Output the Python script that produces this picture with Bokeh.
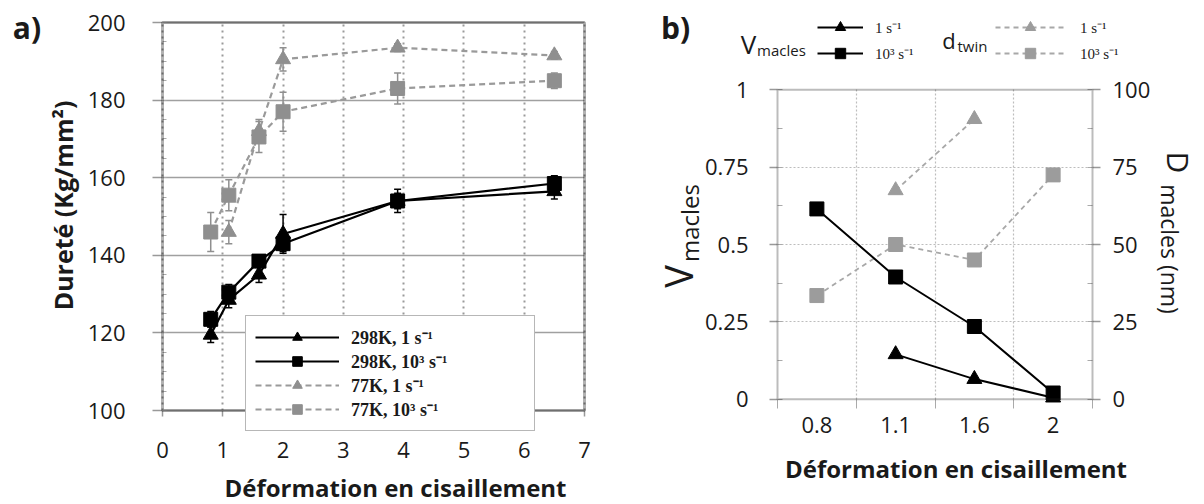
import math
from bokeh.plotting import figure
from bokeh.models import (ColumnDataSource, Whisker, TeeHead, Legend, LegendItem, Label,
                          FixedTicker, LinearAxis, Range1d, Grid, BoxAnnotation)
from bokeh.layouts import row
from bokeh.embed import file_html
from bokeh.resources import INLINE

SANS = "Open Sans"
SERIF = "Liberation Serif"
INK = "#1a1a1a"

# ---------------- panel a data ----------------
strain_298 = [0.8, 1.1, 1.6, 2.0, 3.9, 6.5]
hv_298_1 = [119.5, 128.5, 135.0, 145.5, 154.0, 156.5]
err_298_1 = [2, 2, 2, 5, 2, 2]
hv_298_1e3 = [123.5, 130.5, 138.5, 143.0, 154.0, 158.5]
err_298_1e3 = [2, 2, 1, 2, 3, 2]
strain_77_1 = [1.1, 1.6, 2.0, 3.9, 6.5]
hv_77_1 = [146.0, 172.0, 190.5, 193.5, 191.5]
err_77_1 = [3, 3, 3, 1, 1]
strain_77_1e3 = [0.8, 1.1, 1.6, 2.0, 3.9, 6.5]
hv_77_1e3 = [146.0, 155.5, 170.5, 177.0, 183.0, 185.0]
err_77_1e3 = [5, 4, 4, 5, 4, 2]
labels_a = ["298K, 1 s⁻¹", "298K, 10³ s⁻¹", "77K, 1 s⁻¹", "77K, 10³ s⁻¹"]
x_ticks_a = [0, 1, 2, 3, 4, 5, 6, 7]
y_ticks_a = [100, 120, 140, 160, 180, 200]

# ---------------- panel b data ----------------
strain_b = ["0.8", "1.1", "1.6", "2"]
v_1 = [None, 0.145, 0.065, 0.005]
v_1e3 = [0.615, 0.395, 0.235, 0.02]
d_1 = [None, 67.5, 90.5, None]
d_1e3 = [33.5, 50.0, 45.0, 72.5]
v_ticks = [0, 0.25, 0.5, 0.75, 1]
v_tick_labels = ["0", "0.25", "0.5", "0.75", "1"]
d_ticks = [0, 25, 50, 75, 100]
legend_b_labels = ["1 s⁻¹", "10³ s⁻¹"]

BLACK = "#000000"
GRAY_M = "#8f8f8f"
GRAY_L = "#9a9a9a"

# ---------------- layout geometry (page pixels) ----------------
H = 504
W1, W2 = 628, 574
O1 = (0, 0)             # canvas origin of figure a on the page
O2 = (W1, 0)            # canvas origin of figure b
BOX_A = dict(l=162, r=584, t=22, b=410)       # plot box of panel a
BOX_B = dict(l=777, r=1092, t=89.3, b=398.7)  # plot box of panel b
XA, YA = (0, 7), (100, 200)
XB, YB, YD = (0.5, 4.5), (0, 1), (0, 100)


def ranges_for(box, origin, W, xr, yr):
    kx = (box["r"] - box["l"]) / (xr[1] - xr[0])
    ky = (box["b"] - box["t"]) / (yr[1] - yr[0])
    x0 = xr[0] - (box["l"] - origin[0]) / kx
    x1 = xr[1] + (origin[0] + W - box["r"]) / kx
    y1 = yr[1] + (box["t"] - origin[1]) / ky
    y0 = yr[0] - (origin[1] + H - box["b"]) / ky
    return (x0, x1), (y0, y1), kx, ky


def src(xs, ys, errs=None):
    d = {"x": list(xs), "y": list(ys)}
    if errs is not None:
        d["upper"] = [y + e for y, e in zip(ys, errs)]
        d["lower"] = [y - e for y, e in zip(ys, errs)]
    return ColumnDataSource(d)


def label(p, origin, X, Y, text, size, angle=0.0, style="normal", font=SANS):
    p.add_layout(Label(x=X - origin[0], y=origin[1] + H - Y, x_units="screen", y_units="screen",
                       text=text, angle=angle, text_font=font, text_font_size=size,
                       text_font_style=style, text_align="center", text_baseline="middle",
                       text_color=INK))


HAS_CB = "cross_bounds" in Grid.properties()


def add_grid(p, dim, ticks, cross, color, width, dash):
    if HAS_CB:
        p.add_layout(Grid(dimension=dim, ticker=FixedTicker(ticks=ticks), cross_bounds=cross,
                          grid_line_color=color, grid_line_width=width, grid_line_dash=dash))
    else:
        n = len(ticks)
        if dim == 0:
            p.segment(x0=ticks, x1=ticks, y0=[cross[0]] * n, y1=[cross[1]] * n,
                      line_color=color, line_width=width, line_dash=dash, level="underlay")
        else:
            p.segment(y0=ticks, y1=ticks, x0=[cross[0]] * n, x1=[cross[1]] * n,
                      line_color=color, line_width=width, line_dash=dash, level="underlay")


def style_axis(ax, tick_size="22px"):
    ax.axis_line_color = None
    ax.major_tick_line_color = "#999999"
    ax.major_tick_line_width = 1.5
    ax.minor_tick_line_color = "#aaaaaa"
    ax.major_tick_in = 0
    ax.major_label_text_font = SANS
    ax.major_label_text_font_size = tick_size
    ax.major_label_text_color = INK
    ax.axis_label_text_font = SANS
    ax.axis_label_text_font_size = "24px"
    ax.axis_label_text_font_style = "bold"
    ax.axis_label_text_color = INK


# ================= figure a =================
xra, yra, kxa, kya = ranges_for(BOX_A, O1, W1, XA, YA)
p1 = figure(width=W1, height=H, x_range=xra, y_range=yra, x_axis_location=None,
            y_axis_location=None, min_border=0, output_backend="svg", toolbar_location=None)
p1.outline_line_color = None
p1.grid.visible = False

ax_x = LinearAxis(fixed_location=YA[0], ticker=FixedTicker(ticks=x_ticks_a))
style_axis(ax_x)
ax_x.major_tick_out = 6
ax_x.minor_tick_out = 0
ax_x.major_label_standoff = 25
ax_x.axis_label = "Déformation en cisaillement"
ax_x.axis_label_standoff = 10
ax_x.bounds = (XA[0], XA[0] + 2 * (406.5 - BOX_A["l"]) / kxa)
p1.add_layout(ax_x, "below")

ax_y = LinearAxis(fixed_location=XA[0],
                  ticker=FixedTicker(ticks=y_ticks_a, minor_ticks=list(range(100, 201, 5))))
style_axis(ax_y)
ax_y.major_tick_out = 10
ax_y.minor_tick_in = 4
ax_y.minor_tick_out = 0
ax_y.major_label_standoff = 27
ax_y.axis_label = "Dureté (Kg/mm²)"
ax_y.axis_label_text_font_size = "25px"
ax_y.axis_label_standoff = 5
ax_y.bounds = (YA[0], YA[0] + 2 * (BOX_A["b"] - 191) / kya)
p1.add_layout(ax_y, "left")

add_grid(p1, 1, y_ticks_a, XA, "#a0a0a0", 1.5, "solid")
add_grid(p1, 0, x_ticks_a, YA, "#9a9a9a", 2, "2 4")

s298_1 = src(strain_298, hv_298_1, err_298_1)
s298_3 = src(strain_298, hv_298_1e3, err_298_1e3)
s77_1 = src(strain_77_1, hv_77_1, err_77_1)
s77_3 = src(strain_77_1e3, hv_77_1e3, err_77_1e3)

l77_1 = p1.line("x", "y", source=s77_1, line_color=GRAY_L, line_width=2.2, line_dash="6 4")
l77_3 = p1.line("x", "y", source=s77_3, line_color=GRAY_L, line_width=2.2, line_dash="6 4")
l298_1 = p1.line("x", "y", source=s298_1, line_color=BLACK, line_width=2.2)
l298_3 = p1.line("x", "y", source=s298_3, line_color=BLACK, line_width=2.2)
for s, c in ((s77_1, GRAY_M), (s77_3, GRAY_M), (s298_1, BLACK), (s298_3, BLACK)):
    p1.add_layout(Whisker(source=s, base="x", upper="upper", lower="lower", line_color=c,
                          line_width=1.5,
                          upper_head=TeeHead(size=7, line_color=c, line_width=1.5),
                          lower_head=TeeHead(size=7, line_color=c, line_width=1.5)))
m77_1 = p1.scatter("x", "y", source=s77_1, marker="triangle", size=15, color=GRAY_M)
m77_3 = p1.scatter("x", "y", source=s77_3, marker="square", size=14, color=GRAY_M)
m298_1 = p1.scatter("x", "y", source=s298_1, marker="triangle", size=15, color=BLACK)
m298_3 = p1.scatter("x", "y", source=s298_3, marker="square", size=14, color=BLACK)

p1.add_layout(BoxAnnotation(left=XA[0], right=XA[1], bottom=YA[0], top=YA[1],
                            fill_color=None, line_color="black", line_width=3))

leg_a = Legend(items=[LegendItem(label=labels_a[0], renderers=[l298_1, m298_1]),
                      LegendItem(label=labels_a[1], renderers=[l298_3, m298_3]),
                      LegendItem(label=labels_a[2], renderers=[l77_1, m77_1]),
                      LegendItem(label=labels_a[3], renderers=[l77_3, m77_3])],
               location=(245 - O1[0], O1[1] + H - 431), margin=0, padding=9, spacing=0,
               glyph_width=84, glyph_height=24, label_height=24, label_width=174,
               label_standoff=12, label_text_font=SERIF, label_text_font_size="18px",
               label_text_font_style="bold", label_text_color=INK,
               border_line_color="#707070", border_line_width=1.5,
               background_fill_color="white", background_fill_alpha=1)
p1.add_layout(leg_a)
label(p1, O1, 26.5, 27, "a)", "30px", style="bold")

# ================= figure b =================
xrb, yrb, kxb, kyb = ranges_for(BOX_B, O2, W2, XB, YB)
p2 = figure(width=W2, height=H, x_range=xrb, y_range=yrb, x_axis_location=None,
            y_axis_location=None, min_border=0, output_backend="svg", toolbar_location=None)
p2.outline_line_color = None
p2.grid.visible = False
p2.extra_y_ranges = {"d": Range1d(yrb[0] * YD[1], yrb[1] * YD[1])}

bottom = LinearAxis(fixed_location=YB[0],
                    ticker=FixedTicker(ticks=[i + 1 for i in range(len(strain_b))],
                                       minor_ticks=[i + 0.5 for i in range(len(strain_b) + 1)]))
style_axis(bottom)
bottom.major_label_overrides = {i + 1: s for i, s in enumerate(strain_b)}
bottom.major_tick_out = 0
bottom.minor_tick_in = 0
bottom.minor_tick_out = 9
bottom.major_label_standoff = 9
bottom.axis_label = "Déformation en cisaillement"
bottom.axis_label_standoff = 15
bottom.bounds = (XB[0], XB[0] + 2 * (955.5 - BOX_B["l"]) / kxb)
p2.add_layout(bottom, "below")

left = LinearAxis(fixed_location=XB[0],
                  ticker=FixedTicker(ticks=v_ticks, minor_ticks=[k * 0.125 for k in range(9)]))
left.major_label_overrides = {t: s for t, s in zip(v_ticks, v_tick_labels)}
right = LinearAxis(y_range_name="d", fixed_location=XB[1],
                   ticker=FixedTicker(ticks=d_ticks, minor_ticks=[k * 12.5 for k in range(9)]))
for ax in (left, right):
    style_axis(ax)
    ax.major_tick_out = 8
    ax.minor_tick_in = 5
    ax.minor_tick_out = 0
left.major_label_standoff = 21
right.major_label_standoff = 12
p2.add_layout(left, "left")
p2.add_layout(right, "right")

add_grid(p2, 0, [i + 1.5 for i in range(len(strain_b) - 1)], YB, "#bdbdbd", 1.2, "2 2")
add_grid(p2, 1, v_ticks[1:-1], XB, "#bdbdbd", 1.2, "2 2")


def src_b(values):
    xs = [i + 1 for i, v in enumerate(values) if v is not None]
    ys = [v for v in values if v is not None]
    return ColumnDataSource({"x": xs, "y": ys})


sd1 = src_b(d_1)
sd3 = src_b(d_1e3)
sv1 = src_b(v_1)
sv3 = src_b(v_1e3)
ld1 = p2.line("x", "y", source=sd1, y_range_name="d", line_color="#a8a8a8", line_width=1.8, line_dash="5 4")
ld3 = p2.line("x", "y", source=sd3, y_range_name="d", line_color="#a8a8a8", line_width=1.8, line_dash="5 4")
md1 = p2.scatter("x", "y", source=sd1, y_range_name="d", marker="triangle", size=15, color="#9c9c9c")
md3 = p2.scatter("x", "y", source=sd3, y_range_name="d", marker="square", size=14, color="#9c9c9c")
lv1 = p2.line("x", "y", source=sv1, line_color=BLACK, line_width=2)
lv3 = p2.line("x", "y", source=sv3, line_color=BLACK, line_width=2)
mv1 = p2.scatter("x", "y", source=sv1, marker="triangle", size=15, color=BLACK)
mv3 = p2.scatter("x", "y", source=sv3, marker="square", size=14, color=BLACK)

p2.add_layout(BoxAnnotation(left=XB[0], right=XB[1], bottom=YB[0], top=YB[1],
                            fill_color=None, line_color="#222222", line_width=2))

common = dict(margin=0, padding=0, spacing=0, glyph_height=26, label_height=26,
              label_text_font=SERIF, label_text_font_size="15px", label_text_color=INK,
              border_line_color=None, background_fill_alpha=0)
leg_v = Legend(items=[LegendItem(label=legend_b_labels[0], renderers=[lv1, mv1]),
                      LegendItem(label=legend_b_labels[1], renderers=[lv3, mv3])],
               location=(817 - O2[0], O2[1] + H - 66), glyph_width=46, label_standoff=12, **common)
leg_d = Legend(items=[LegendItem(label=legend_b_labels[0], renderers=[ld1, md1]),
                      LegendItem(label=legend_b_labels[1], renderers=[ld3, md3])],
               location=(995 - O2[0], O2[1] + H - 66), glyph_width=70, label_standoff=15, **common)
p2.add_layout(leg_v)
p2.add_layout(leg_d)

label(p2, O2, 675, 27, "b)", "30px", style="bold")
label(p2, O2, 748, 43, "V", "26px")
label(p2, O2, 781, 49, "macles", "15px")
label(p2, O2, 948.5, 39, "d", "22px")
label(p2, O2, 972, 45, "twin", "15px")
label(p2, O2, 677, 276, "V", "38px", angle=math.pi / 2)
label(p2, O2, 688.5, 222.5, "macles", "24px", angle=math.pi / 2)
label(p2, O2, 1178, 162, "D", "30px", angle=-math.pi / 2)
label(p2, O2, 1169, 248.5, "macles (nm)", "23px", angle=-math.pi / 2)

layout = row(p1, p2)
open("out.html", "w").write(file_html(layout, INLINE, "plot"))
